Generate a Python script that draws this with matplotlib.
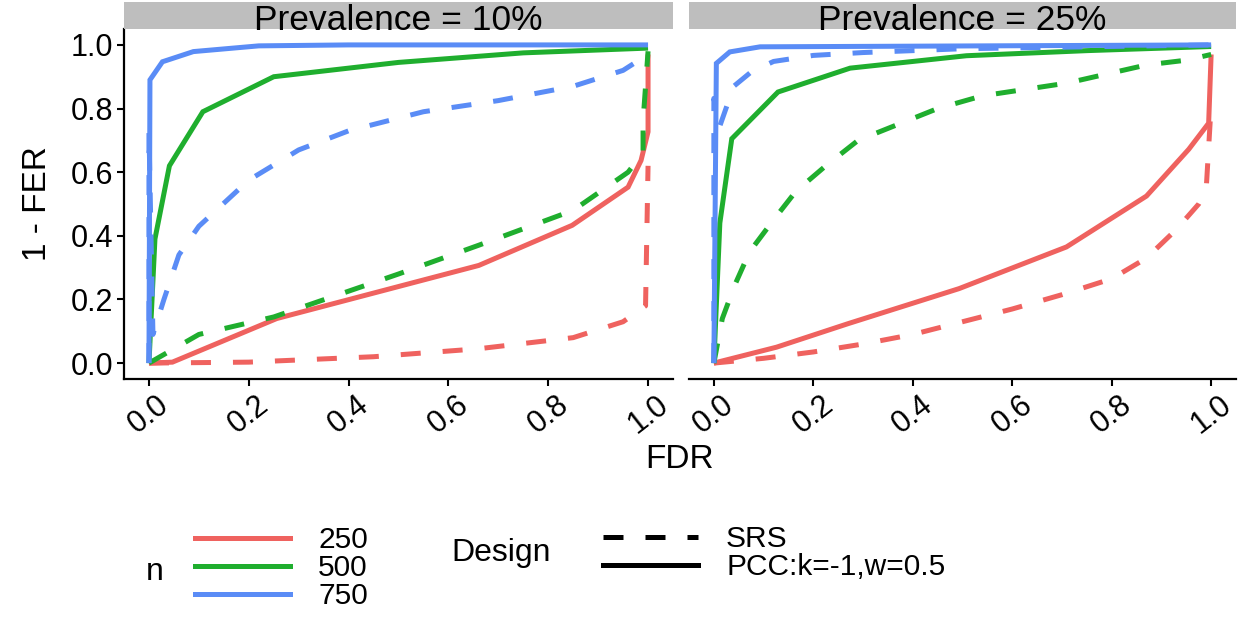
import matplotlib
matplotlib.use("Agg")
import matplotlib.pyplot as plt
from matplotlib.lines import Line2D

plt.rcParams['font.family'] = ['Liberation Sans', 'DejaVu Sans']

# ---- curves: FDR (x) against 1 - FER (y) ----
# Prevalence = 10%
p10_n250_srs_x = [0, 0.2, 0.45, 0.66, 0.85, 0.95, 0.995, 1.0]
p10_n250_srs_y = [0, 0.003, 0.02, 0.045, 0.08, 0.13, 0.18, 0.62]
p10_n250_pcc_x = [0, 0.047, 0.256, 0.661, 0.848, 0.96, 0.986, 1.0, 1.0]
p10_n250_pcc_y = [0, 0.003, 0.14, 0.307, 0.433, 0.553, 0.637, 0.727, 0.97]
p10_n500_srs_x = [0, 0.1, 0.25, 0.5, 0.66, 0.85, 0.96, 0.99, 0.99, 1.0]
p10_n500_srs_y = [0, 0.09, 0.145, 0.28, 0.37, 0.48, 0.60, 0.66, 0.76, 0.98]
p10_n500_pcc_x = [0, 0.012, 0.041, 0.108, 0.25, 0.5, 0.75, 1.0]
p10_n500_pcc_y = [0, 0.39, 0.62, 0.79, 0.90, 0.945, 0.975, 0.99]
p10_n750_srs_x = [0, 0, 0.008, 0.03, 0.06, 0.1, 0.2, 0.3, 0.4, 0.55, 0.7, 0.85, 0.95, 1.0]
p10_n750_srs_y = [0, 0.73, 0.09, 0.2, 0.34, 0.43, 0.575, 0.67, 0.73, 0.79, 0.825, 0.87, 0.92, 0.97]
p10_n750_pcc_x = [0, 0.002, 0.027, 0.089, 0.22, 0.4, 1.0]
p10_n750_pcc_y = [0, 0.89, 0.947, 0.979, 0.997, 1.0, 1.0]

# Prevalence = 25%
p25_n250_srs_x = [0, 0.1, 0.2, 0.3, 0.4, 0.5, 0.6, 0.7, 0.8, 0.87, 0.93, 0.975, 0.99, 1.0]
p25_n250_srs_y = [0, 0.015, 0.035, 0.06, 0.09, 0.13, 0.17, 0.215, 0.265, 0.33, 0.42, 0.5, 0.545, 0.81]
p25_n250_pcc_x = [0, 0.126, 0.27, 0.493, 0.709, 0.87, 0.955, 0.995, 1.0]
p25_n250_pcc_y = [0, 0.05, 0.124, 0.234, 0.365, 0.525, 0.672, 0.754, 0.97]
p25_n500_srs_x = [0, 0.017, 0.042, 0.072, 0.12, 0.165, 0.225, 0.29, 0.37, 0.45, 0.54, 0.71, 0.87, 0.95, 1.0]
p25_n500_srs_y = [0, 0.14, 0.245, 0.35, 0.45, 0.54, 0.62, 0.70, 0.75, 0.80, 0.84, 0.88, 0.937, 0.952, 0.97]
p25_n500_pcc_x = [0, 0.012, 0.036, 0.129, 0.274, 0.508, 0.75, 1.0]
p25_n500_pcc_y = [0, 0.44, 0.705, 0.852, 0.927, 0.966, 0.982, 0.995]
p25_n750_srs_x = [0, 0, 0.012, 0.04, 0.075, 0.12, 0.2, 0.3, 0.5, 1.0]
p25_n750_srs_y = [0, 0.832, 0.745, 0.87, 0.915, 0.948, 0.967, 0.976, 0.988, 1.0]
p25_n750_pcc_x = [0, 0.005, 0.032, 0.093, 1.0]
p25_n750_pcc_y = [0, 0.942, 0.978, 0.994, 1.0]

panel_titles = ['Prevalence = 10%', 'Prevalence = 25%']
n_levels = ['250', '500', '750']
design_levels = ['SRS', 'PCC:k=-1,w=0.5']
ticks = [0.0, 0.2, 0.4, 0.6, 0.8, 1.0]

colors = {'250': '#EF625F', '500': '#1FAE2E', '750': '#5A8CF6'}
styles = {'SRS': (0, (4, 4.4)), 'PCC:k=-1,w=0.5': 'solid'}

panels = [
    {
        ('250', 'SRS'): (p10_n250_srs_x, p10_n250_srs_y),
        ('250', 'PCC:k=-1,w=0.5'): (p10_n250_pcc_x, p10_n250_pcc_y),
        ('500', 'SRS'): (p10_n500_srs_x, p10_n500_srs_y),
        ('500', 'PCC:k=-1,w=0.5'): (p10_n500_pcc_x, p10_n500_pcc_y),
        ('750', 'SRS'): (p10_n750_srs_x, p10_n750_srs_y),
        ('750', 'PCC:k=-1,w=0.5'): (p10_n750_pcc_x, p10_n750_pcc_y),
    },
    {
        ('250', 'SRS'): (p25_n250_srs_x, p25_n250_srs_y),
        ('250', 'PCC:k=-1,w=0.5'): (p25_n250_pcc_x, p25_n250_pcc_y),
        ('500', 'SRS'): (p25_n500_srs_x, p25_n500_srs_y),
        ('500', 'PCC:k=-1,w=0.5'): (p25_n500_pcc_x, p25_n500_pcc_y),
        ('750', 'SRS'): (p25_n750_srs_x, p25_n750_srs_y),
        ('750', 'PCC:k=-1,w=0.5'): (p25_n750_pcc_x, p25_n750_pcc_y),
    },
]

W, H = 1251, 618
fig = plt.figure(figsize=(W / 100, H / 100), dpi=100)


def px(x0, y0, x1, y1):
    # pixel box (top-left origin) -> figure fraction rect
    return [x0 / W, 1 - y1 / H, (x1 - x0) / W, (y1 - y0) / H]


boxes = [(124, 29, 673, 379), (689, 29, 1236, 379)]
lw = 3.6

for i, (box, curves, title) in enumerate(zip(boxes, panels, panel_titles)):
    ax = fig.add_axes(px(*box))
    for n in n_levels:
        for d in design_levels:
            x, y = curves[(n, d)]
            ax.plot(x, y, color=colors[n], linestyle=styles[d], lw=lw,
                    solid_joinstyle='miter', dash_capstyle='butt', solid_capstyle='butt')
    ax.set_xlim(-0.05, 1.05)
    ax.set_ylim(-0.05, 1.05)
    ax.set_xticks(ticks)
    ax.set_xticklabels([f'{t:.1f}' for t in ticks], rotation=38, ha='center', va='top')
    ax.set_yticks(ticks)
    ax.set_yticklabels([f'{t:.1f}' for t in ticks])
    ax.tick_params(length=5, width=1.5, labelsize=22, pad=3, color='black')
    for s in ['top', 'right']:
        ax.spines[s].set_visible(False)
    ax.spines['bottom'].set_linewidth(1.6)
    ax.spines['left'].set_linewidth(1.6)
    if i == 1:
        ax.spines['left'].set_visible(False)
        ax.tick_params(axis='y', left=False, labelleft=False)

    # facet strip
    sx = fig.add_axes(px(box[0], 2, box[2], 29))
    sx.set_facecolor('#BEBEBE')
    sx.set_xticks([])
    sx.set_yticks([])
    for s in sx.spines.values():
        s.set_visible(False)
    sx.text(0.5, -0.04, title, ha='center', va='baseline', fontsize=25.5,
            transform=sx.transAxes, clip_on=False)

fig.text(680 / W, 1 - 460 / H, 'FDR', ha='center', va='center', fontsize=24)
fig.text(38 / W, 1 - 204 / H, '1 - FER', ha='center', va='center', fontsize=24,
         rotation=90)

# legends
leg_kw = dict(loc='center left', frameon=False, fontsize=21.5, handlelength=3.18,
              handletextpad=0.94, labelspacing=0.0, borderpad=0, borderaxespad=0)

fig.text(146 / W, 1 - 572 / H, 'n', ha='left', va='center', fontsize=23)
n_handles = [Line2D([], [], color=colors[n], lw=lw) for n in n_levels]
fig.legend(n_handles, n_levels, bbox_to_anchor=(195 / W, 1 - 568 / H), **leg_kw)

fig.text(451 / W, 1 - 553 / H, 'Design', ha='left', va='center', fontsize=23)
d_handles = [Line2D([], [], color='black', lw=lw, linestyle=styles[d]) for d in design_levels]
fig.legend(d_handles, design_levels, bbox_to_anchor=(603 / W, 1 - 553 / H), **leg_kw)

fig.savefig('out.png', dpi=100)
